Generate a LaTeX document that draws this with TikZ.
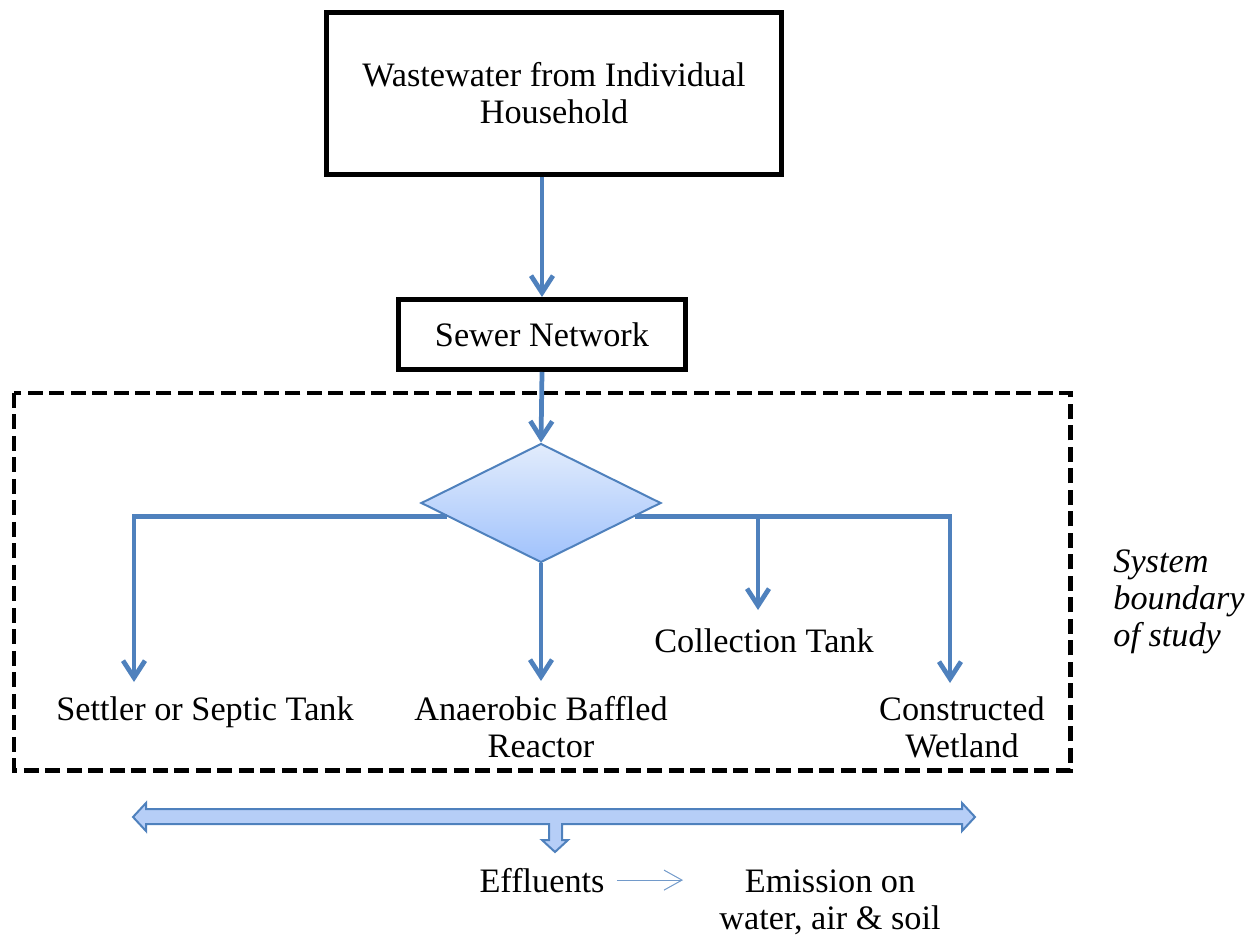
\documentclass[tikz,border=0pt]{standalone}
\usepackage{fontspec}
\setmainfont{Liberation Serif}
\usetikzlibrary{shapes.geometric,arrows.meta}
\definecolor{flowblue}{RGB}{79,129,189}
\definecolor{paleblue}{RGB}{182,206,247}
\definecolor{topblue}{RGB}{226,236,252}
\definecolor{botblue}{RGB}{160,194,252}
\begin{document}
\begin{tikzpicture}[x=0.02cm,y=-0.02cm,
    every node/.style={font=\fontsize{19.5}{21}\selectfont},
    box/.style={draw,line width=0.09cm,align=center,inner sep=0pt},
    txt/.style={align=center,anchor=base,inner sep=0pt},
    flow/.style={draw=flowblue,line width=0.095cm,-{Straight Barb[length=3.4mm,width=4.4mm]}},
    thinflow/.style={draw=flowblue!80,line width=0.02cm,-{Straight Barb[length=3.6mm,width=4mm]}}]
  \useasboundingbox (0,0) rectangle (1253,935);
  % system boundary
  \draw[line width=0.1cm,dash pattern=on 0.3cm off 0.13cm] (14,393) rectangle (1070,770);
  \node[txt,anchor=base west,align=left,font=\fontsize{19.5}{21}\selectfont\itshape](sys) at (1113,646)
    {System\\boundary\\of study};
  \node[box,minimum width=9.1cm,minimum height=3.24cm](house) at (554,93.5)
    {Wastewater from Individual\\Household};
  \node[box,minimum width=5.75cm,minimum height=1.41cm](sewer) at (542,334.5) {Sewer Network};
  \node[diamond,draw=flowblue,line width=0.04cm,top color=topblue,bottom color=botblue,
    minimum width=4.8cm,minimum height=2.38cm,inner sep=0pt](dec) at (541,503) {};
  \coordinate (s1) at (134,682);
  \coordinate (a1) at (541,681);
  \coordinate (c1) at (758,610);
  \coordinate (w1) at (950,683);
  \draw[flow] (house.south -| sewer.north) -- (sewer.north);
  \draw[flow] (sewer.south) -- (dec.north);
  \draw[flow] (dec.188) -| (s1);
  \draw[flow] (dec.south) -- (a1);
  \draw[flow] (dec.352) -| (w1);
  \draw[flow] (dec.352 -| c1) -- (c1);
  \node[txt](settler) at (205,720) {Settler or Septic Tank};
  \node[txt](abr) at (541,757) {Anaerobic Baffled\\Reactor};
  \node[txt](coll) at (764,652) {Collection Tank};
  \node[txt](wet) at (962,757) {Constructed\\Wetland};
  % effluents
  \draw[flowblue,line width=0.04cm,fill=paleblue] (133,817) -- (146,803) -- (146,809) -- (962,809)
    -- (962,803) -- (975,817) -- (962,831) -- (962,824) -- (562,824) -- (562,840) -- (568,840)
    -- (555,852) -- (542,840) -- (549,840) -- (549,824) -- (146,824) -- (146,831) -- cycle;
  \node[txt](eff) at (542,892) {Effluents};
  \node[txt](emis) at (830,929) {Emission on\\water, air \& soil};
  \draw[thinflow,shorten <=0.24cm,shorten >=0.72cm] (eff.east) -- (eff.east -| emis.west);
\end{tikzpicture}
\end{document}
